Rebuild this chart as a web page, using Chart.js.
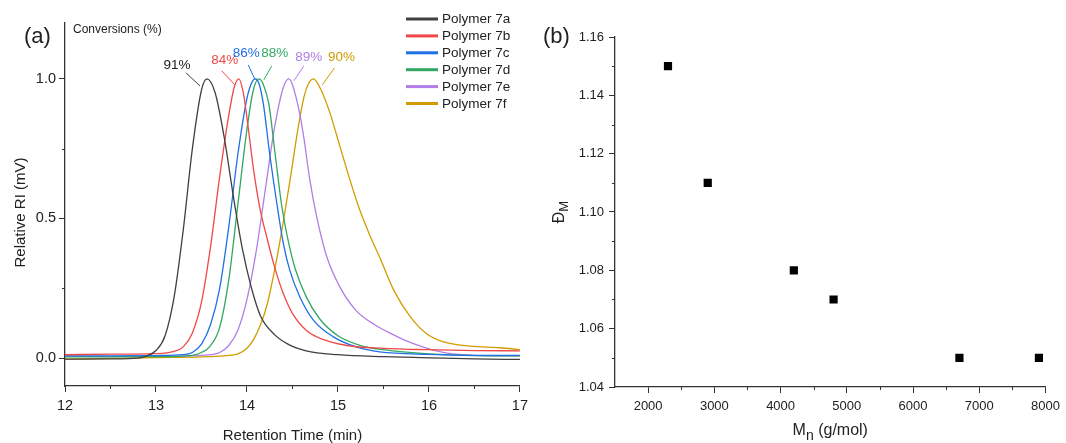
<!DOCTYPE html>
<html>
<head>
<meta charset="utf-8">
<script src="https://cdn.jsdelivr.net/npm/chart.js@4.4.1/dist/chart.umd.min.js"></script>
<style>
  body { margin: 0; background: #fff; }
  #wrap { position: relative; width: 1066px; height: 443px; }
  #cA { position: absolute; left: 0; top: 0; }
  #cB { position: absolute; left: 533px; top: 0; }
</style>
</head>
<body>
<div id="wrap">
  <canvas id="cA" width="533" height="443"></canvas>
  <canvas id="cB" width="533" height="443"></canvas>
</div>
<script>
// ---- data (a): GPC traces, [retention time (min), relative RI] ----
const p7a = [[12.0,-0.004],[12.5,-0.003],[12.8,0.0],[12.9,0.008],[13.0,0.027],[13.1,0.08],[13.2,0.22],[13.3,0.46],[13.4,0.75],[13.5,0.96],[13.56,1.0],[13.65,0.95],[13.75,0.79],[13.85,0.58],[13.95,0.39],[14.05,0.25],[14.15,0.15],[14.3,0.085],[14.45,0.05],[14.65,0.026],[15.0,0.012],[15.5,0.005],[16.0,0.001],[16.5,-0.003],[17.0,-0.005]];
const p7b = [[12.0,0.012],[12.5,0.014],[13.0,0.016],[13.2,0.024],[13.3,0.04],[13.4,0.09],[13.5,0.20],[13.6,0.40],[13.7,0.65],[13.8,0.87],[13.86,0.97],[13.91,1.0],[13.96,0.95],[14.0,0.86],[14.07,0.68],[14.14,0.54],[14.22,0.43],[14.3,0.33],[14.4,0.23],[14.5,0.16],[14.65,0.10],[14.85,0.065],[15.1,0.045],[15.5,0.035],[16.0,0.03],[16.5,0.027],[17.0,0.026]];
const p7c = [[12.0,0.008],[12.5,0.008],[13.0,0.009],[13.3,0.012],[13.4,0.02],[13.5,0.05],[13.6,0.12],[13.7,0.25],[13.8,0.47],[13.9,0.73],[14.0,0.93],[14.05,0.985],[14.09,1.0],[14.13,0.985],[14.18,0.91],[14.25,0.73],[14.33,0.55],[14.4,0.41],[14.47,0.315],[14.58,0.22],[14.73,0.136],[14.95,0.076],[15.2,0.04],[15.46,0.022],[16.0,0.013],[16.5,0.01],[17.0,0.01]];
const p7d = [[12.0,0.004],[12.5,0.004],[13.0,0.005],[13.4,0.01],[13.5,0.02],[13.6,0.045],[13.7,0.11],[13.8,0.28],[13.9,0.55],[14.0,0.82],[14.07,0.96],[14.13,1.0],[14.18,0.98],[14.24,0.91],[14.31,0.73],[14.38,0.55],[14.46,0.41],[14.53,0.32],[14.65,0.22],[14.8,0.14],[15.0,0.08],[15.25,0.045],[15.5,0.03],[16.0,0.015],[16.5,0.009],[17.0,0.008]];
const p7e = [[12.0,0.006],[12.5,0.006],[13.0,0.006],[13.4,0.008],[13.6,0.012],[13.7,0.02],[13.8,0.045],[13.9,0.10],[14.0,0.21],[14.1,0.38],[14.2,0.60],[14.3,0.82],[14.4,0.97],[14.46,1.0],[14.55,0.92],[14.62,0.80],[14.69,0.64],[14.77,0.50],[14.88,0.36],[15.02,0.255],[15.2,0.17],[15.4,0.12],[15.6,0.085],[15.8,0.055],[16.0,0.033],[16.2,0.018],[16.5,0.01],[17.0,0.008]];
const p7f = [[12.0,-0.004],[12.5,-0.001],[13.0,0.002],[13.5,0.004],[13.7,0.007],[13.8,0.01],[13.9,0.015],[14.0,0.035],[14.07,0.065],[14.15,0.12],[14.22,0.19],[14.33,0.36],[14.4,0.49],[14.47,0.63],[14.56,0.82],[14.63,0.94],[14.68,0.985],[14.73,1.0],[14.8,0.97],[14.91,0.88],[15.02,0.76],[15.13,0.64],[15.24,0.53],[15.35,0.44],[15.46,0.36],[15.61,0.245],[15.79,0.15],[15.97,0.088],[16.16,0.058],[16.45,0.043],[16.78,0.037],[17.0,0.03]];

const polymers = ['Polymer 7a', 'Polymer 7b', 'Polymer 7c', 'Polymer 7d', 'Polymer 7e', 'Polymer 7f'];
const conversions = ['91%', '84%', '86%', '88%', '89%', '90%'];
const minorA_x = [12.5, 13.5, 14.5, 15.5, 16.5];
const minorA_y = [0.25, 0.75];

// ---- data (b): dispersity vs Mn ----
const mn = [2300, 2900, 4200, 4800, 6700, 7900];
const dispersity = [1.15, 1.11, 1.08, 1.07, 1.05, 1.05];
const mnTicks = [2000, 3000, 4000, 5000, 6000, 7000, 8000];
const minorB_x = [2500, 3500, 4500, 5500, 6500, 7500];
const minorB_y = [1.05, 1.07, 1.09, 1.11, 1.13, 1.15];

const FONT = "'Liberation Sans', Arial, sans-serif";
const AXIS = '#333';
const colors = ['#404040', '#f04848', '#1f6fe6', '#30a862', '#b07ee6', '#d19c00'];
const traces = [p7a, p7b, p7c, p7d, p7e, p7f];

// label / leader offsets relative to each peak (px)
const convOffsets = [
  { tx: -30, ty: -14, x1: -21, y1: -6, x2: -7, y2: 7 },
  { tx: -14, ty: -19, x1: -17, y1: -8, x2: -4, y2: 6 },
  { tx: -9, ty: -26, x1: -7, y1: -14, x2: 0, y2: 1 },
  { tx: 16, ty: -26, x1: 13, y1: -13, x2: 5, y2: 1 },
  { tx: 20, ty: -22, x1: 15, y1: -13, x2: 5, y2: 2 },
  { tx: 28, ty: -22, x1: 21, y1: -11, x2: 9, y2: 6 }
];

function drawMinor(chart, id, values, len) {
  const sc = chart.scales[id];
  const a = chart.chartArea;
  const ctx = chart.ctx;
  ctx.save();
  ctx.strokeStyle = AXIS;
  ctx.lineWidth = 1;
  ctx.beginPath();
  values.forEach(v => {
    const p = Math.round(sc.getPixelForValue(v)) + 0.5;
    if (sc.isHorizontal()) { ctx.moveTo(p, a.bottom); ctx.lineTo(p, a.bottom + len); }
    else { ctx.moveTo(a.left, p); ctx.lineTo(a.left - len, p); }
  });
  ctx.stroke();
  ctx.restore();
}

const panelA = {
  id: 'panelA',
  afterDraw(chart) {
    const ctx = chart.ctx;
    const a = chart.chartArea;
    drawMinor(chart, 'x', minorA_x, 3);
    drawMinor(chart, 'y', minorA_y, 3);
    ctx.save();
    // conversion labels with leader lines
    chart.data.datasets.forEach((ds, i) => {
      let peak = ds.data[0];
      ds.data.forEach(p => { if (p.y > peak.y) peak = p; });
      const px = chart.scales.x.getPixelForValue(peak.x);
      const py = chart.scales.y.getPixelForValue(peak.y);
      const o = convOffsets[i];
      ctx.strokeStyle = ds.borderColor;
      ctx.lineWidth = 1;
      ctx.beginPath();
      ctx.moveTo(px + o.x1, py + o.y1);
      ctx.lineTo(px + o.x2, py + o.y2);
      ctx.stroke();
      ctx.fillStyle = i == 0 ? '#222' : ds.borderColor;
      ctx.font = '13.5px ' + FONT;
      ctx.textAlign = 'center';
      ctx.textBaseline = 'middle';
      ctx.fillText(conversions[i], px + o.tx, py + o.ty);
    });
    // legend
    ctx.font = '13.5px ' + FONT;
    ctx.textAlign = 'left';
    ctx.textBaseline = 'middle';
    chart.data.datasets.forEach((ds, i) => {
      const y = 19 + i * 16.9;
      ctx.strokeStyle = ds.borderColor;
      ctx.lineWidth = 3;
      ctx.beginPath();
      ctx.moveTo(406, y);
      ctx.lineTo(438, y);
      ctx.stroke();
      ctx.fillStyle = '#222';
      ctx.fillText(ds.label, 442, y + 0.5);
    });
    // texts
    ctx.fillStyle = '#222';
    ctx.font = '12px ' + FONT;
    ctx.fillText('Conversions (%)', 73, 30);
    ctx.font = '22px ' + FONT;
    ctx.fillText('(a)', 24, 37);
    ctx.font = '15px ' + FONT;
    ctx.textAlign = 'center';
    ctx.fillText('Retention Time (min)', (a.left + a.right) / 2, 436);
    ctx.translate(21, (a.top + a.bottom) / 2 + 8);
    ctx.rotate(-Math.PI / 2);
    ctx.fillText('Relative RI (mV)', 0, 0);
    ctx.restore();
  }
};

const panelB = {
  id: 'panelB',
  afterDraw(chart) {
    const ctx = chart.ctx;
    const a = chart.chartArea;
    drawMinor(chart, 'x', minorB_x, 3);
    drawMinor(chart, 'y', minorB_y, 3);
    ctx.save();
    ctx.fillStyle = '#222';
    ctx.textBaseline = 'middle';
    ctx.textAlign = 'left';
    ctx.font = '22px ' + FONT;
    ctx.fillText('(b)', 10, 37);
    // x title: Mn (g/mol)
    const cx = (a.left + a.right) / 2;
    ctx.font = '16px ' + FONT;
    const wM = ctx.measureText('M').width;
    const wRest = ctx.measureText(' (g/mol)').width;
    ctx.font = '14px ' + FONT;
    const wn = ctx.measureText('n').width;
    let x0 = cx - (wM + wn + wRest) / 2;
    ctx.font = '16px ' + FONT;
    ctx.fillText('M', x0, 431);
    ctx.font = '14px ' + FONT;
    ctx.fillText('n', x0 + wM, 436);
    ctx.font = '16px ' + FONT;
    ctx.fillText(' (g/mol)', x0 + wM + wn, 431);
    // y title: ĐM
    ctx.translate(27, (a.top + a.bottom) / 2);
    ctx.rotate(-Math.PI / 2);
    ctx.font = '16px ' + FONT;
    const wD = ctx.measureText('Đ').width;
    ctx.font = '13px ' + FONT;
    const wS = ctx.measureText('M').width;
    const s0 = -(wD + wS) / 2;
    ctx.font = '16px ' + FONT;
    ctx.fillText('Đ', s0, 0);
    ctx.font = '13px ' + FONT;
    ctx.fillText('M', s0 + wD, 4);
    ctx.restore();
  }
};

function axisStyle() {
  return {
    grid: { display: true, drawOnChartArea: false, drawTicks: true, tickLength: 6, tickColor: AXIS, tickWidth: 1 },
    border: { display: true, color: AXIS, width: 1.3 },
    title: { display: false }
  };
}

// (a) chromatograms
const xA = Object.assign(axisStyle(), {
  type: 'linear', min: 12, max: 17,
  ticks: { stepSize: 1, includeBounds: false, padding: 5, color: '#222', font: { family: FONT, size: 14.5 }, maxRotation: 0 },
  afterFit: s => { s.height = 57; }
});
const yA = Object.assign(axisStyle(), {
  type: 'linear', min: -0.1, max: 1.2,
  ticks: { stepSize: 0.5, includeBounds: false, padding: 3, color: '#222', font: { family: FONT, size: 14.5 },
    callback: v => v.toFixed(1) },
  afterFit: s => { s.width = 65; }
});

new Chart(document.getElementById('cA'), {
  type: 'line',
  data: {
    datasets: traces.map((tr, i) => ({
      label: polymers[i],
      data: tr.map(p => ({ x: p[0], y: p[1] })),
      borderColor: colors[i],
      borderWidth: 1.3,
      pointRadius: 0,
      fill: false,
      cubicInterpolationMode: 'monotone'
    }))
  },
  options: {
    responsive: false,
    animation: false,
    devicePixelRatio: 1,
    layout: { padding: { top: 23, right: 13, left: 0, bottom: 0 } },
    plugins: { legend: { display: false }, tooltip: { enabled: false } },
    scales: { x: xA, y: yA }
  },
  plugins: [panelA]
});

// (b) dispersity vs Mn
const xB = Object.assign(axisStyle(), {
  type: 'linear', min: 1500, max: 8000,
  ticks: { padding: 6, color: '#222', font: { family: FONT, size: 13 }, maxRotation: 0, autoSkip: false,
    callback: v => String(v) },
  afterBuildTicks: s => { s.ticks = mnTicks.map(v => ({ value: v })); },
  afterFit: s => { s.height = 56; }
});
const yB = Object.assign(axisStyle(), {
  type: 'linear', min: 1.04, max: 1.16,
  ticks: { stepSize: 0.02, includeBounds: false, padding: 5, color: '#222', font: { family: FONT, size: 13 },
    callback: v => v.toFixed(2) },
  afterFit: s => { s.width = 82; }
});

new Chart(document.getElementById('cB'), {
  type: 'scatter',
  data: {
    datasets: [{
      label: 'ĐM',
      data: mn.map((m, i) => ({ x: m, y: dispersity[i] })),
      pointStyle: 'rect',
      pointRadius: 5.8,
      borderWidth: 0,
      backgroundColor: '#000'
    }]
  },
  options: {
    responsive: false,
    animation: false,
    devicePixelRatio: 1,
    layout: { padding: { top: 37, right: 18, left: 0, bottom: 0 } },
    plugins: { legend: { display: false }, tooltip: { enabled: false } },
    scales: { x: xB, y: yB }
  },
  plugins: [panelB]
});
</script>
</body>
</html>
